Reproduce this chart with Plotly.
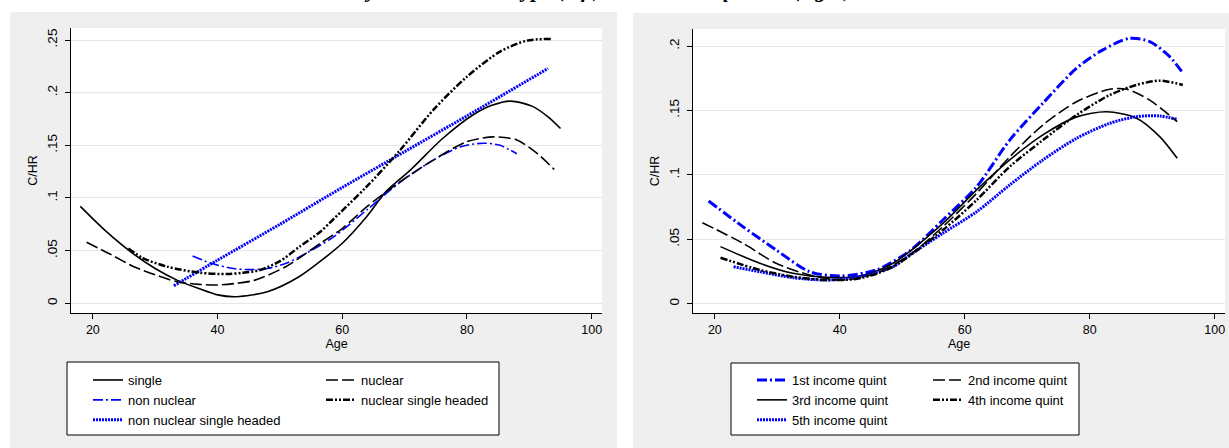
import plotly.graph_objects as go

W, H = 1229, 448

# ---------------- data: left panel (family type) ----------------
single_age = [18, 22, 26.5, 30, 33.5, 37, 40, 43, 48, 53, 56.5, 60, 64, 67, 71, 76, 81, 84, 87, 90.5, 93, 95]
single_val = [0.092, 0.069, 0.047, 0.033, 0.022, 0.014, 0.008, 0.0063, 0.011, 0.025, 0.040, 0.057, 0.083, 0.106, 0.127, 0.156, 0.179, 0.188, 0.192, 0.187, 0.177, 0.166]

nuclear_age = [19, 23, 26.5, 30, 33.5, 37, 40, 43, 46, 51, 56.5, 60, 64, 69.3, 74.6, 80, 84.3, 88, 91.2, 94]
nuclear_val = [0.058, 0.046, 0.035, 0.027, 0.0205, 0.018, 0.0174, 0.019, 0.022, 0.035, 0.057, 0.071, 0.092, 0.1155, 0.136, 0.1535, 0.158, 0.155, 0.1425, 0.127]

nonnuc_age = [36, 39, 42.5, 45, 48, 51, 53.2, 58.6, 64, 69.3, 74.6, 79, 82.6, 85.3, 88]
nonnuc_val = [0.045, 0.038, 0.033, 0.032, 0.033, 0.038, 0.0443, 0.063, 0.089, 0.115, 0.136, 0.1487, 0.152, 0.150, 0.142]

nsh_age = [25.7, 28, 31.9, 37.2, 41.5, 44, 46.8, 50, 53.2, 56.5, 58.6, 63.9, 69.3, 74.6, 80, 85.3, 89.6, 93.5]
nsh_val = [0.052, 0.043, 0.0348, 0.029, 0.0278, 0.029, 0.0316, 0.040, 0.054, 0.068, 0.080, 0.1107, 0.1456, 0.1836, 0.2152, 0.239, 0.2494, 0.251]

nnsh_age = [33, 40, 50, 60, 70, 80, 93]
nnsh_val = [0.0167, 0.041, 0.075, 0.110, 0.144, 0.178, 0.223]

# ---------------- data: right panel (income quintile) ----------------
q1_age = [19, 24.5, 29.8, 35.2, 40, 45.8, 51.2, 56.5, 61.9, 67.2, 72.5, 77.9, 82.1, 86.4, 89.6, 92.8, 95]
q1_val = [0.0797, 0.0598, 0.0417, 0.0248, 0.0215, 0.0262, 0.041, 0.065, 0.0908, 0.127, 0.1556, 0.1828, 0.197, 0.206, 0.2034, 0.1918, 0.1783]

q2_age = [18, 24.5, 29.8, 35.2, 40.5, 45.8, 51.2, 56.5, 61.9, 67.2, 72.5, 77.9, 83.2, 85.9, 89.6, 94]
q2_val = [0.0629, 0.0469, 0.0314, 0.0223, 0.0184, 0.0236, 0.038, 0.0598, 0.0857, 0.114, 0.1387, 0.1568, 0.1665, 0.1665, 0.158, 0.1413]

q3_age = [20.9, 27.2, 32.5, 37.8, 43.2, 48.5, 56.5, 61.9, 67.2, 72.5, 77.9, 82.7, 87.5, 91.2, 94]
q3_val = [0.0443, 0.0314, 0.0236, 0.0205, 0.0215, 0.0314, 0.0624, 0.0883, 0.1116, 0.131, 0.145, 0.149, 0.144, 0.1297, 0.1129]

q4_age = [20.9, 27.2, 32.5, 37.8, 43.2, 48.5, 56.5, 61.9, 67.2, 72.5, 77.9, 83.2, 87.5, 91.2, 94.9]
q4_val = [0.0357, 0.0262, 0.021, 0.0184, 0.0197, 0.0287, 0.0572, 0.0805, 0.1064, 0.127, 0.1465, 0.162, 0.1698, 0.1731, 0.1698]

q5_age = [23, 27.2, 32.5, 37.8, 43.2, 48.5, 51.2, 56.5, 61.9, 67.2, 72.5, 77.9, 83.2, 87.5, 91.2, 93.9]
q5_val = [0.0287, 0.0248, 0.0202, 0.0184, 0.021, 0.0287, 0.0378, 0.0547, 0.0714, 0.0922, 0.1116, 0.1284, 0.140, 0.1452, 0.1457, 0.1432]

x_ticks = [20, 40, 60, 80, 100]
left_yticks = [0, 0.05, 0.1, 0.15, 0.2, 0.25]
left_ylabels = ["0", ".05", ".1", ".15", ".2", ".25"]
right_yticks = [0, 0.05, 0.1, 0.15, 0.2]
right_ylabels = ["0", ".05", ".1", ".15", ".2"]

title_text = "C/HR by the household type (left) and income quintile (right)"

# ---------------- styles ----------------
BLUE = "#0000ff"
BLACK = "#000000"
SOLID = "solid"
LDASH = "12px,4px"
DASHDOT = "10px,3px,2px,3px"
DASHDOT2 = "7px,2px,2px,2px,2px,2px"
DOTS = "2px,1px"

FONT = "Liberation Sans, Arial, sans-serif"

def px_x(p):
    return p / W

def px_y(p):
    return 1 - p / H

fig = go.Figure()

def add(xs, ys, name, color, dash, width, xa, ya, legend):
    fig.add_trace(go.Scatter(
        x=xs, y=ys, name=name, mode="lines",
        line=dict(color=color, dash=dash, width=width, shape="spline", smoothing=0.8),
        xaxis=xa, yaxis=ya, legend=legend, hoverinfo="skip"))

# left panel
add(single_age, single_val, "single", BLACK, SOLID, 1.6, "x", "y", "legend")
add(nonnuc_age, nonnuc_val, "non nuclear", BLUE, DASHDOT, 1.6, "x", "y", "legend")
add(nnsh_age, nnsh_val, "non nuclear single headed", BLUE, DOTS, 3, "x", "y", "legend")
add(nuclear_age, nuclear_val, "nuclear", BLACK, LDASH, 1.6, "x", "y", "legend2")
add(nsh_age, nsh_val, "nuclear single headed", BLACK, DASHDOT2, 2.5, "x", "y", "legend2")

# right panel
add(q1_age, q1_val, "1st income quint", BLUE, DASHDOT, 3, "x2", "y2", "legend3")
add(q3_age, q3_val, "3rd income quint", BLACK, SOLID, 1.6, "x2", "y2", "legend3")
add(q5_age, q5_val, "5th income quint", BLUE, DOTS, 3, "x2", "y2", "legend3")
add(q2_age, q2_val, "2nd income quint", BLACK, LDASH, 1.6, "x2", "y2", "legend4")
add(q4_age, q4_val, "4th income quint", BLACK, DASHDOT2, 2.5, "x2", "y2", "legend4")

# ---------------- layout ----------------
tickfont = dict(family=FONT, size=12.5, color="black")

def xaxis(domain, anchor):
    return dict(domain=domain, anchor=anchor, range=[16.5, 101.65], tickvals=x_ticks,
                ticks="outside", ticklen=5, tickcolor="black", showline=True, linecolor="black",
                linewidth=1, showgrid=False, zeroline=False, tickfont=tickfont, automargin=False,
                title=dict(text="Age", font=tickfont, standoff=2))

def yaxis(domain, anchor, rng, tv, tt):
    return dict(domain=domain, anchor=anchor, range=rng, tickvals=tv, ticktext=tt,
                tickangle=-90, ticks="outside", ticklen=5, tickcolor="black", showline=True,
                linecolor="black", linewidth=1, showgrid=True, gridcolor="#e6e6e6", gridwidth=1,
                zeroline=False, tickfont=dict(family=FONT, size=13.5, color="black"),
                automargin=False, ticklabelstandoff=3,
                title=dict(text="C/HR", font=tickfont, standoff=4))

legfont = dict(family=FONT, size=13, color="black")

def legend(xp, yp):
    return dict(x=px_x(xp), y=px_y(yp), xref="paper", yref="paper", xanchor="left", yanchor="top",
                bgcolor="rgba(0,0,0,0)", borderwidth=0, font=legfont, orientation="v",
                tracegroupgap=0, itemclick=False, itemdoubleclick=False)

shapes = [
    # gray graph regions
    dict(type="rect", xref="paper", yref="paper", x0=px_x(10), x1=px_x(617), y0=0, y1=px_y(12),
         fillcolor="#efefef", line=dict(width=0), layer="below"),
    dict(type="rect", xref="paper", yref="paper", x0=px_x(633), x1=1, y0=0, y1=px_y(13),
         fillcolor="#efefef", line=dict(width=0), layer="below"),
    # white plot regions
    dict(type="rect", xref="paper", yref="paper", x0=px_x(71), x1=px_x(602), y0=px_y(313), y1=px_y(28),
         fillcolor="white", line=dict(width=0), layer="below"),
    dict(type="rect", xref="paper", yref="paper", x0=px_x(693), x1=px_x(1225), y0=px_y(313), y1=px_y(29),
         fillcolor="white", line=dict(width=0), layer="below"),
    # legend boxes
    dict(type="rect", xref="paper", yref="paper", x0=px_x(67), x1=px_x(499), y0=px_y(435), y1=px_y(362),
         fillcolor="white", line=dict(width=1, color="black"), layer="below"),
    dict(type="rect", xref="paper", yref="paper", x0=px_x(731), x1=px_x(1079), y0=px_y(435), y1=px_y(363),
         fillcolor="white", line=dict(width=1, color="black"), layer="below"),
]

fig.update_layout(
    width=W, height=H,
    margin=dict(l=0, r=0, t=0, b=0, autoexpand=False),
    paper_bgcolor="white", plot_bgcolor="rgba(0,0,0,0)",
    xaxis=xaxis([px_x(71), px_x(602)], "y"),
    yaxis=yaxis([px_y(313), px_y(28)], "x", [-0.0092, 0.2614], left_yticks, left_ylabels),
    xaxis2=xaxis([px_x(693), px_x(1225)], "y2"),
    yaxis2=yaxis([px_y(313), px_y(29)], "x2", [-0.0072, 0.2132], right_yticks, right_ylabels),
    legend=legend(88, 365),
    legend2=legend(321, 365),
    legend3=legend(752, 365),
    legend4=legend(928, 365),
    shapes=shapes,
    annotations=[dict(text=title_text, xref="paper", yref="paper", x=px_x(575), y=px_y(4),
                      xanchor="center", yanchor="bottom", showarrow=False,
                      font=dict(family="Liberation Serif, Times New Roman, serif", size=22,
                                color="black", weight="bold", style="italic"))],
)

fig.write_html("out.html", config={"displayModeBar": False},
               post_script="document.body.style.margin='0';document.body.style.overflow='hidden';")
